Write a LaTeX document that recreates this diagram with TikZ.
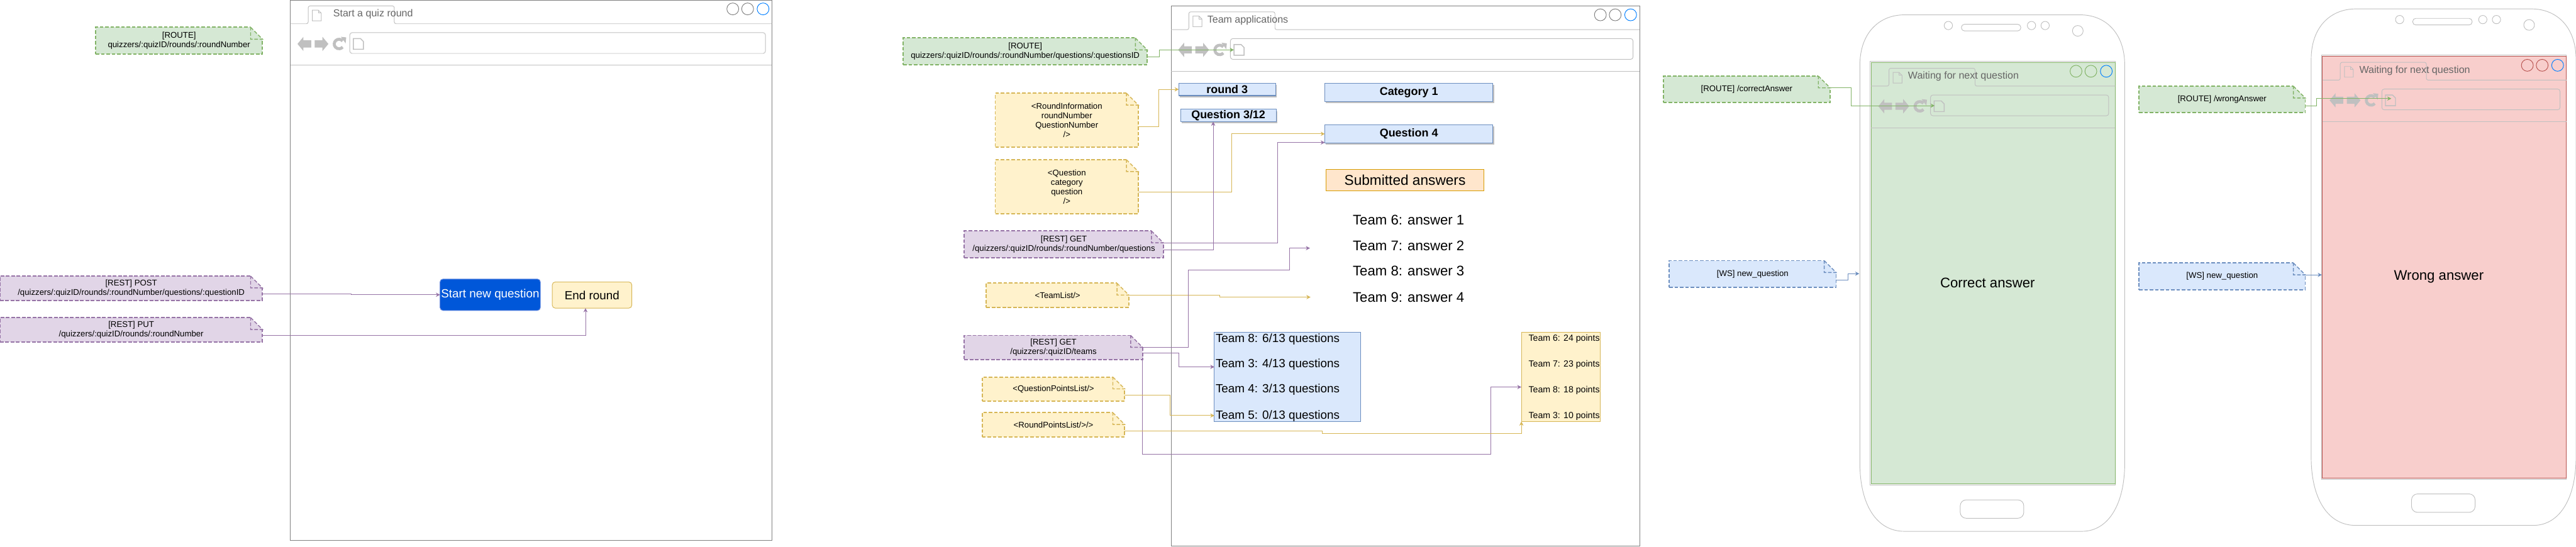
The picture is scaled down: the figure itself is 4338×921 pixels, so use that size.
\documentclass[tikz,border=0pt]{standalone}
\usepackage{fontspec}
\setmainfont{Liberation Sans}
\usetikzlibrary{arrows.meta,shadows}

\definecolor{routeFill}{HTML}{D5E8D4}
\definecolor{routeEdge}{HTML}{82B366}
\definecolor{restFill}{HTML}{E1D5E7}
\definecolor{restEdge}{HTML}{9673A6}
\definecolor{wsFill}{HTML}{DAE8FC}
\definecolor{wsEdge}{HTML}{6C8EBF}
\definecolor{dataFill}{HTML}{FFF2CC}
\definecolor{dataEdge}{HTML}{D6B656}
\definecolor{wrongFill}{HTML}{F8CECC}
\definecolor{wrongEdge}{HTML}{B85450}
\definecolor{answerFill}{HTML}{FFE6CC}
\definecolor{answerEdge}{HTML}{D79B00}
\definecolor{startFill}{HTML}{0057D9}
\definecolor{startEdge}{HTML}{6C8EE0}
\definecolor{chrome}{HTML}{C0C0C0}
\definecolor{frameEdge}{HTML}{808080}
\definecolor{titleText}{HTML}{666666}
\definecolor{activeDot}{HTML}{007FFF}

\begin{document}
\begin{tikzpicture}[x=1pt, y=-1pt]
    \useasboundingbox (0,0) rectangle (4338,921);

    % Styles
    \tikzset{
        foldnote/.style 2 args={rectangle, fill=#1, draw=#2, inner sep=0pt, outer sep=0pt, align=center,
            line width=2pt, dash pattern=on 6pt off 3pt, font=\fontsize{14}{16}\selectfont},
        routenote/.style={foldnote={routeFill}{routeEdge}},
        restnote/.style={foldnote={restFill}{restEdge}},
        wsnote/.style={foldnote={wsFill}{wsEdge}},
        datanote/.style={foldnote={dataFill}{dataEdge}},
        flatbox/.style={rectangle, inner sep=0pt, outer sep=0pt, line width=1pt, align=center},
        bluebox/.style={flatbox, fill=wsFill, draw=wsEdge},
        labelbox/.style={bluebox, line width=1.2pt, font=\fontsize{19}{22}\selectfont\bfseries,
            drop shadow={shadow xshift=2pt, shadow yshift=-3pt, fill=chrome, opacity=1}},
        bigtext/.style={inner sep=0pt, font=\fontsize{23.5}{28}\selectfont},
        rowtext/.style={inner sep=0pt, font=\fontsize{20}{24}\selectfont},
        flow/.style={line width=1pt, -{Stealth[length=7pt, width=7pt]}},
        routeflow/.style={flow, routeEdge},
        restflow/.style={flow, restEdge},
        wsflow/.style={flow, wsEdge},
        dataflow/.style={flow, dataEdge},
        chromeline/.style={chrome, line width=1pt}
    }

    % Phone bodies
    \foreach \dx/\dy in {0/0, 760/-10} {
        \begin{scope}[shift={(\dx,\dy)}]
            \draw[chromeline] (3132,110) .. controls (3132,55) and (3165,25) .. (3207,25) -- (3503,25)
                .. controls (3545,25) and (3578,55) .. (3578,110) -- (3578,780)
                .. controls (3578,850) and (3550,895) .. (3506,895) -- (3207,895)
                .. controls (3160,895) and (3132,850) .. (3132,780) -- cycle;
            \draw[chromeline] (3149,103) rectangle (3562,817);
            \draw[chromeline, rounded corners=5pt] (3303,41) rectangle (3403,52);
            \foreach \cx in {3281,3421,3444} {
                \draw[chromeline] (\cx,43) circle (7pt);
            }
            \draw[chromeline] (3499,52) circle (9pt);
            \draw[chromeline, rounded corners=10pt] (3301,842) rectangle (3408,873);
        \end{scope}
    }

    % Browser windows
    \foreach \bx/\by/\bw/\bh/\tx/\ttl/\cf/\cd/\bn in {
        489/0/811/910/72/Start a quiz round/white/frameEdge/Start,
        1972/10/789/910/61/Team applications/white/frameEdge/Team,
        3151/105/411/710/62/Waiting for next question/routeFill/routeEdge/Correct,
        3911/95/411/710/62/Waiting for next question/wrongFill/wrongEdge/Wrong} {
        \begin{scope}[shift={(\bx,\by)}]
            \draw[fill=\cf, draw=\cd, line width=1pt] (0,0) rectangle (\bw,\bh);
            \draw[chromeline, rounded corners=3pt] (0,40) -- (30,40) -- (30,10) -- (175,10) -- (175,40) -- (\bw,40);
            \draw[chromeline] (0,110) -- (\bw,110);
            \draw[chromeline, rounded corners=4pt] (100,55) rectangle (\bw-11,90);
            % Window dots
            \draw[\cd, line width=1pt] (\bw-66,15) circle (10pt);
            \draw[\cd, line width=1pt] (\bw-41,15) circle (10pt);
            \draw[activeDot, line width=1pt] (\bw-15,15) circle (10pt);
            % Page icons
            \draw[chromeline] (37,17) -- (47,17) -- (52,22) -- (52,35) -- (37,35) -- cycle;
            \draw[chromeline] (47,17) -- (47,22) -- (52,22);
            \draw[chromeline, line width=1.5pt] (106,65) -- (118,65) -- (123,70) -- (123,83) -- (106,83) -- cycle;
            % Back, forward, reload
            \fill[chrome] (12,74) -- (22,62) -- (22,68) -- (35,68) -- (35,80) -- (22,80) -- (22,86) -- cycle;
            \fill[chrome] (64,74) -- (54,62) -- (54,68) -- (41,68) -- (41,80) -- (54,80) -- (54,86) -- cycle;
            \draw[chrome, line width=5pt] (88,69) arc[start angle=40, end angle=320, radius=8pt];
            \fill[chrome] (85,62) -- (94,63) -- (93,73) -- cycle;
            \node[anchor=west, inner sep=0pt, text=titleText, font=\fontsize{17}{20}\selectfont] (title\bn) at (\tx,24) {\ttl};
        \end{scope}
    }

    % First window: notes and buttons
    \node[routenote, minimum width=281pt, minimum height=45pt] (routeRound) at (301.5,68.5) {[ROUTE]\\quizzers/:quizID/rounds/:roundNumber};
    \node[restnote, minimum width=442pt, minimum height=41pt] (notePost) at (221,485.5) {[REST] POST\\/quizzers/:quizID/rounds/:roundNumber/questions/:questionID};
    \node[restnote, minimum width=442pt, minimum height=41pt] (notePut) at (221,555.5) {[REST] PUT\\/quizzers/:quizID/rounds/:roundNumber};
    \node[flatbox, fill=startFill, draw=startEdge, rounded corners=5pt, text=white, minimum width=169pt, minimum height=53pt, font=\fontsize{20}{24}\selectfont] (btnStart) at (825.5,496.5) {Start new question};
    \node[flatbox, fill=dataFill, draw=dataEdge, rounded corners=5pt, minimum width=134pt, minimum height=44pt, font=\fontsize{20}{24}\selectfont] (btnEnd) at (997,497) {End round};

    % Second window: notes
    \node[routenote, minimum width=411pt, minimum height=45pt] (routeTeam) at (1726.5,86.5) {[ROUTE]\\quizzers/:quizID/rounds/:roundNumber/questions/:questionsID};
    \node[datanote, minimum width=241pt, minimum height=91pt] (noteRound) at (1796.5,202.5) {<RoundInformation\\roundNumber\\QuestionNumber\\/>};
    \node[datanote, minimum width=241pt, minimum height=91pt] (noteQuestion) at (1796.5,314.5) {<Question\\category\\question\\/>};
    \node[restnote, minimum width=335pt, minimum height=45pt] (restQuestions) at (1791.5,411.5) {[REST] GET\\/quizzers/:quizID/rounds/:roundNumber/questions};
    \node[datanote, minimum width=240pt, minimum height=41pt] (noteTeams) at (1781,497.5) {<TeamList/>};
    \node[restnote, minimum width=300pt, minimum height=41pt] (restTeams) at (1774,585.5) {[REST] GET\\/quizzers/:quizID/teams};
    \node[datanote, minimum width=240pt, minimum height=41pt] (notePoints) at (1774,655.5) {<QuestionPointsList/>};
    \node[datanote, minimum width=240pt, minimum height=41pt] (noteRoundPoints) at (1774,715.5) {<RoundPointsList/>/>};

    % Second window: content
    \node[labelbox, minimum width=163pt, minimum height=21pt] (round3) at (2066.5,150.5) {round 3};
    \node[labelbox, minimum width=161pt, minimum height=21pt] (question312) at (2068.5,194.5) {Question 3/12};
    \node[labelbox, minimum width=283pt, minimum height=31pt] (category) at (2372.5,155.5) {Category 1};
    \node[labelbox, minimum width=283pt, minimum height=31pt] (question4) at (2372.5,225.5) {Question 4};
    \node[flatbox, fill=answerFill, draw=answerEdge, minimum width=266pt, minimum height=36pt, font=\fontsize{24}{28}\selectfont] (submitted) at (2366,303) {Submitted answers};
    \foreach \tm/\an/\yy in {6/1/371, 7/2/414, 8/3/456, 9/4/501} {
        \node[bigtext] (answer\tm) at (2372,\yy) {Team \tm: answer \an};
    }
    \node[bluebox, minimum width=246pt, minimum height=150pt] (rankingBox) at (2168,635) {};
    \foreach \tm/\sc/\yy in {8/6/571, 3/4/614, 4/3/656, 5/0/701} {
        \node[rowtext, anchor=west] (ranking\tm) at (2047,\yy) {Team \tm: \sc/13 questions};
    }
    \node[flatbox, fill=dataFill, draw=dataEdge, minimum width=133pt, minimum height=150pt] (pointsBox) at (2628.5,635) {};
    \foreach \tm/\sc/\yy in {6/24/571, 7/23/614, 8/18/658, 3/10/701} {
        \node[inner sep=0pt, font=\fontsize{15}{18}\selectfont] (points\tm) at (2634,\yy) {Team \tm: \sc{} points};
    }

    % Phones: notes and captions
    \node[routenote, minimum width=281pt, minimum height=45pt] (routeCorrect) at (2941.5,150.5) {[ROUTE] /correctAnswer};
    \node[wsnote, minimum width=281pt, minimum height=45pt] (wsCorrect) at (2951.5,461.5) {[WS] new\_question};
    \node[routenote, minimum width=280pt, minimum height=45pt] (routeWrong) at (3742,167.5) {[ROUTE] /wrongAnswer};
    \node[wsnote, minimum width=280pt, minimum height=45pt] (wsWrong) at (3742,465.5) {[WS] new\_question};
    \node[bigtext] (captionCorrect) at (3347,476) {Correct answer};
    \node[bigtext] (captionWrong) at (4107,466) {Wrong answer};

    % Folded corners of the notes
    \foreach \nn/\nc in {routeRound/routeEdge, notePost/restEdge, notePut/restEdge, routeTeam/routeEdge,
        noteRound/dataEdge, noteQuestion/dataEdge, restQuestions/restEdge, noteTeams/dataEdge, restTeams/restEdge,
        notePoints/dataEdge, noteRoundPoints/dataEdge, routeCorrect/routeEdge, wsCorrect/wsEdge, routeWrong/routeEdge, wsWrong/wsEdge} {
        \fill[white] ([xshift=-20pt]\nn.north east) -- ([xshift=-20pt,yshift=2pt]\nn.north east)
            -- ([xshift=2pt,yshift=2pt]\nn.north east) -- ([xshift=2pt,yshift=-20pt]\nn.north east)
            -- ([yshift=-20pt]\nn.north east) -- cycle;
        \draw[\nc, line width=1.5pt, dash pattern=on 6pt off 3pt] ([xshift=-20pt]\nn.north east)
            -- ([yshift=-20pt]\nn.north east) -- ([xshift=-20pt,yshift=-20pt]\nn.north east) -- cycle;
    }

    % Free arrow ends
    \coordinate (addrTeam) at (2078,84);
    \coordinate (answerIn) at (2206,418);
    \coordinate (teamListIn) at (2207,500.5);
    \coordinate (addrCorrect) at (3258,178);
    \coordinate (phoneIn) at (3131,461);
    \coordinate (addrWrong) at (4027,166);
    \coordinate (wsIn) at (3910,463);

    % Connectors
    \draw[restflow] ([yshift=-9.5pt]notePost.east) -- (591,495) -- (591,496.5) -- (btnStart.west);
    \draw[restflow] ([yshift=-9.5pt]notePut.east) -- (986,565) -- ([xshift=-11pt]btnEnd.south);
    \draw[routeflow] ([yshift=-9.5pt]routeTeam.east) -- (1952,96) -- (1952,84) -- (addrTeam);
    \draw[dataflow] ([yshift=-10.5pt]noteRound.east) -- (1951,213) -- (1951,150.5) -- (round3.west);
    \draw[dataflow] ([yshift=-9.5pt]noteQuestion.east) -- (2074,324) -- (2074,225.5) -- (question4.west);
    \draw[restflow] ([yshift=2.5pt]restQuestions.east) -- (2151,409) -- (2151,240) -- ([yshift=-14.5pt]question4.west);
    \draw[restflow, line width=.7pt] ([yshift=-9.5pt]restQuestions.east) -- (2043,421) -- ([xshift=-25.5pt]question312.south);
    \draw[dataflow] (noteTeams.east) -- (2054,497.5) -- (2054,500.5) -- (teamListIn);
    \draw[restflow] (restTeams.east) -- (2001,585.5) -- (2001,455) -- (2172,455) -- (2172,418) -- (answerIn);
    \draw[restflow] ([yshift=-9.5pt]restTeams.east) -- (1985,595) -- (1985,618) -- ([yshift=17pt]rankingBox.west);
    \draw[restflow] (restTeams.south east) -- (1924,765) -- (2511,765) -- (2511,652) -- ([yshift=-17pt]pointsBox.west);
    \draw[dataflow] ([yshift=-10.5pt]notePoints.east) -- (1970,666) -- (1970,700) -- ([yshift=-65pt]rankingBox.west);
    \draw[dataflow] ([yshift=-10.5pt]noteRoundPoints.east) -- (2227,726) -- (2227,730) -- (2562,730) -- (pointsBox.south west);
    \draw[routeflow] ([yshift=2.5pt]routeCorrect.east) -- (3117,148) -- (3117,178) -- (addrCorrect);
    \draw[wsflow] ([yshift=-10.5pt]wsCorrect.east) -- (3112,472) -- (3112,461) -- (phoneIn);
    \draw[routeflow] ([yshift=-10.5pt]routeWrong.east) -- (3901,178) -- (3901,166) -- (addrWrong);
    \draw[wsflow] ([yshift=2.5pt]wsWrong.east) -- (wsIn);
\end{tikzpicture}
\end{document}
